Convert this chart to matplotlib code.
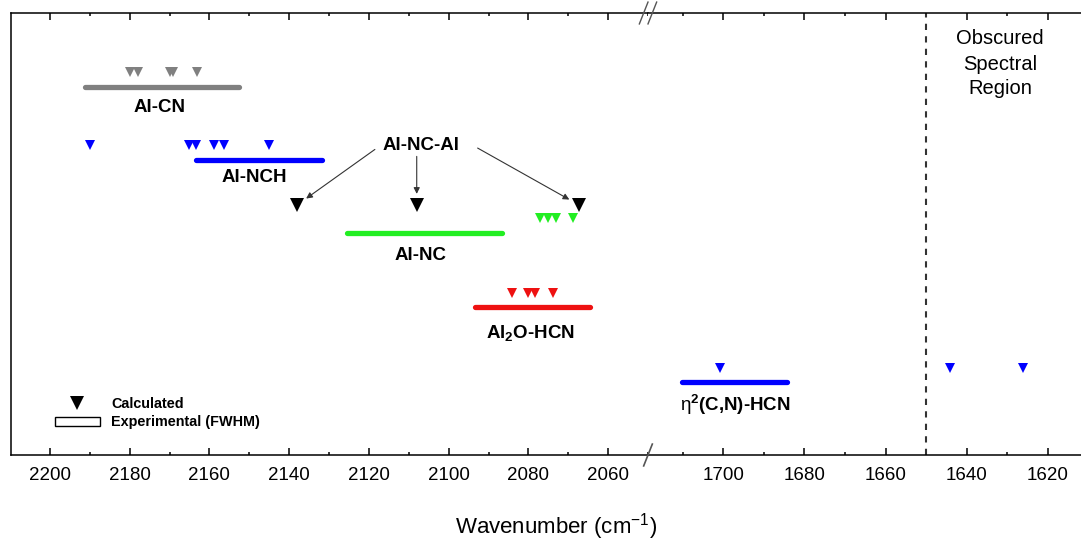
import matplotlib
matplotlib.use("Agg")
import matplotlib.pyplot as plt
from matplotlib.lines import Line2D
from matplotlib.patches import Patch

plt.rcParams['font.family'] = ['Liberation Sans', 'DejaVu Sans']
plt.rcParams['mathtext.fontset'] = 'custom'
plt.rcParams['mathtext.rm'] = 'Liberation Sans'
plt.rcParams['mathtext.it'] = 'Liberation Sans:italic'
plt.rcParams['mathtext.bf'] = 'Liberation Sans:bold'

# ---------------- data ----------------
species = ['Al-CN', 'Al-NCH', 'Al-NC', 'Al2O-HCN', 'eta2-HCN']
colors = ['#808080', '#0000ff', '#22ee22', '#ee1111', '#0000ff']
# experimental FWHM ranges (start, end) in cm-1
exp_ranges = [(2191.3, 2152.5), (2163.3, 2131.7), (2125.4, 2086.7),
              (2093.3, 2064.6), (1710.3, 1684.3)]
# calculated frequencies
calc_alcn = [2180, 2178, 2170, 2169, 2163]
calc_alnch = [2190, 2165, 2163.3, 2158.8, 2156.3, 2145]
calc_alnc = [2077.1, 2075, 2073.1, 2068.9]
calc_al2o = [2084.2, 2080.2, 2078.3, 2073.9]
calc_eta = [1700.8, 1644.1, 1626.0]
calc_alncal = [2138.0, 2108.0, 2067.3]
calc_lists = [calc_alcn, calc_alnch, calc_alnc, calc_al2o, calc_eta]
# vertical rows (arbitrary units)
bar_levels = [368, 295, 222, 148, 73]
tri_levels = [383, 310, 237, 162, 87]
alncal_level = 250
obscured_limit = 1650

# axis ranges
left_lim = (2209.75, 2050.5)
right_lim = (1718.6, 1611.8)

# ---------------- figure ----------------
W, H = 1081, 546
fig = plt.figure(figsize=(W / 100, H / 100), dpi=100)
x0, xb, x1 = 11 / W, 648 / W, 1.0
yb, yt = 1 - 455 / H, 1 - 13 / H
axL = fig.add_axes([x0, yb, xb - x0, yt - yb])
axR = fig.add_axes([xb, yb, x1 - xb, yt - yb])

for ax, lim in ((axL, left_lim), (axR, right_lim)):
    ax.set_xlim(*lim)
    ax.set_ylim(0, 442)
    ax.set_yticks([])
    for s in ax.spines.values():
        s.set_linewidth(1.1)
    ax.tick_params(axis='x', which='both', direction='in', top=True,
                   bottom=True, labelsize=13.5, pad=9, width=1.1)
    ax.tick_params(axis='x', which='major', length=5)
    ax.tick_params(axis='x', which='minor', length=2.5)
axL.spines['right'].set_visible(False)
axR.spines['left'].set_visible(False)
axR.spines['right'].set_visible(False)
axL.set_xticks(range(2200, 2049, -20))
axL.set_xticks(range(2190, 2049, -20), minor=True)
axR.set_xticks(range(1700, 1611, -20))
axR.set_xticks(range(1710, 1611, -20), minor=True)

# break marks
for dx in (-0.004, 0.004):
    fig.add_artist(Line2D([xb + dx - 0.004, xb + dx + 0.004],
                          [yt - 0.02, yt + 0.02], color='#555555', lw=1.0))
fig.add_artist(Line2D([xb - 0.004, xb + 0.004], [yb - 0.02, yb + 0.02],
                      color='#555555', lw=1.2))

# experimental bars and calculated triangles
for i, (rng, calc, c) in enumerate(zip(exp_ranges, calc_lists, colors)):
    for ax in (axL, axR):
        ax.plot(rng, [bar_levels[i]] * 2, color=c, lw=3.8,
                solid_capstyle='round', clip_on=True)
        ax.plot(calc, [tri_levels[i]] * len(calc), 'v', color=c,
                markersize=7.8, markeredgewidth=0, clip_on=True)

# Al-NC-Al calculated
axL.plot(calc_alncal, [alncal_level] * len(calc_alncal), 'v', color='black',
         markersize=10, markeredgewidth=0)

# labels
lab_kw = dict(fontsize=13.5, fontweight='bold', ha='center', va='center')
axL.text(2172.5, 348, 'Al-CN', **lab_kw)
axL.text(2148.8, 277, 'Al-NCH', **lab_kw)
axL.text(2106.8, 310, 'Al-NC-Al', **lab_kw)
axL.text(2107.1, 200, 'Al-NC', **lab_kw)
axL.text(2079.6, 122, r'Al$_{\mathbf{2}}$O-HCN', **lab_kw)
axR.text(1697.1, 50, r'$\mathrm{\eta}^{\mathbf{2}}$(C,N)-HCN', **lab_kw)

# arrows from Al-NC-Al label
offsets = [(56, 40), (0, 35), (-73, 41)]
for xv, off in zip(calc_alncal, offsets):
    axL.annotate('', xy=(xv, alncal_level), xytext=off,
                 textcoords='offset points',
                 arrowprops=dict(arrowstyle='-|>', color='#333333', lw=0.8,
                                 mutation_scale=9, shrinkA=0, shrinkB=8))

# obscured region
axR.axvline(obscured_limit, color='#333333', lw=1.5, ls=(0, (3, 3)))
axR.text(1631.8, 391, 'Obscured\nSpectral\nRegion', fontsize=14.5,
         ha='center', va='center', linespacing=1.4)

# legend
handles = [Line2D([], [], marker='v', color='black', ls='none',
                  markersize=10, markeredgewidth=0),
           Patch(facecolor='white', edgecolor='black', lw=1.0)]
leg = axL.legend(handles, ['Calculated', 'Experimental (FWHM)'],
                 loc='upper left', bbox_to_anchor=(55 / W, 1 - 397 / H),
                 bbox_transform=fig.transFigure, frameon=False,
                 borderpad=0, borderaxespad=0, handlelength=3.1,
                 handleheight=0.55, handletextpad=0.8, labelspacing=0.3,
                 prop=dict(size=10.4, weight='bold'))

fig.text(556 / W, 1 - 527 / H, r'Wavenumber (cm$^{-1}$)', fontsize=16,
         ha='center', va='center')

fig.savefig('out.png', dpi=100)
